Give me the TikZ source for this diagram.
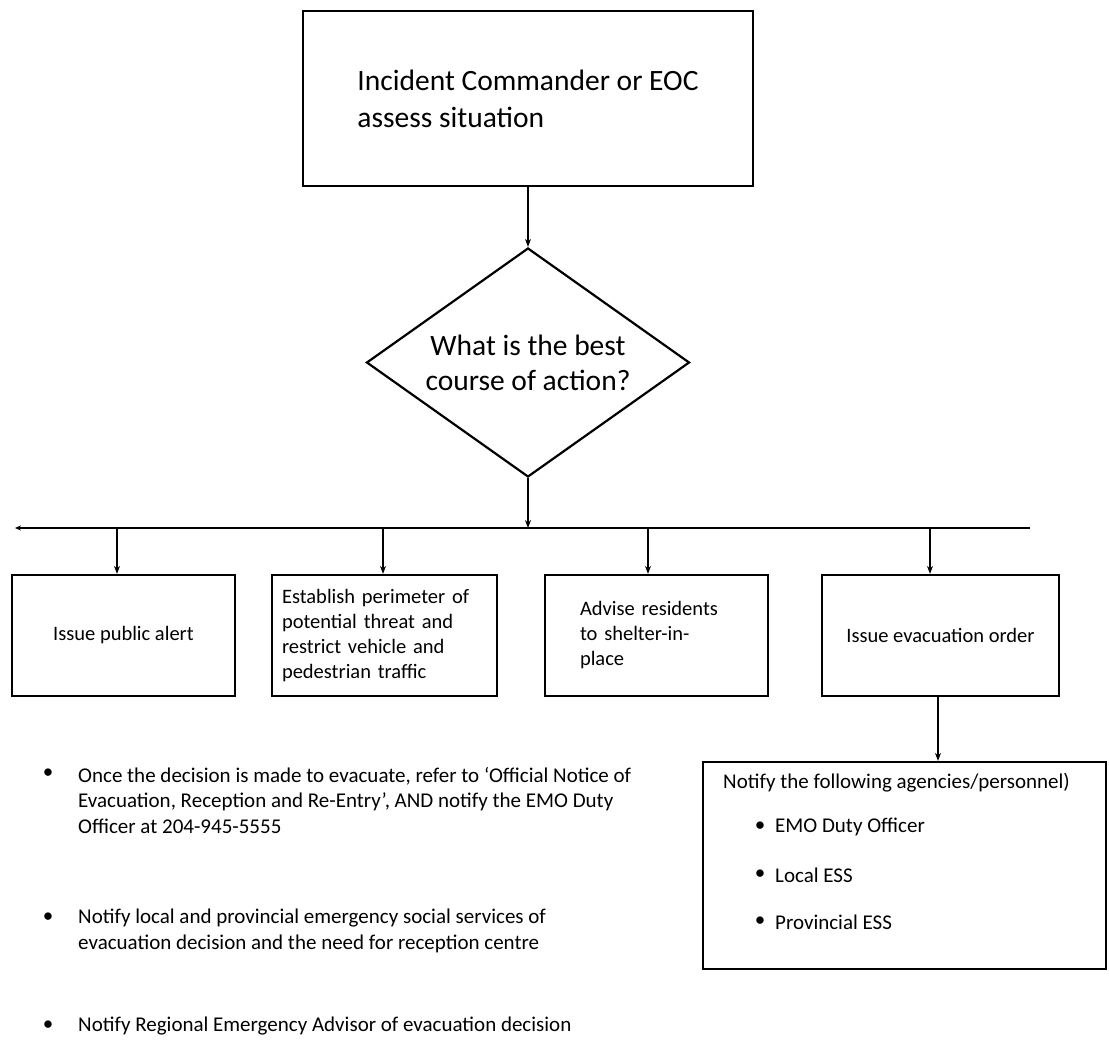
\documentclass[tikz,border=0pt]{standalone}
\usepackage{fontspec}
\setmainfont{Carlito}
\usetikzlibrary{shapes.geometric,arrows.meta}
\begin{document}
\begin{tikzpicture}[x=1pt,y=-1pt,
  box/.style={draw, line width=2.2pt, rectangle, inner sep=0pt, font=\fontsize{20.5}{25}\selectfont},
  arr/.style={line width=1.5pt, -{Stealth[length=8pt,width=6pt]}},
  ln/.style={line width=1.8pt},
  txt/.style={inner sep=0pt, anchor=west, font=\fontsize{21}{25.5}\selectfont, align=left},
  bul/.style={inner sep=0pt, font=\fontsize{21}{25}\selectfont},
]
\useasboundingbox (0,0) rectangle (1109,1042);

% top box
\node[box, minimum width=450pt, minimum height=175pt, align=left,
      font=\fontsize{29.5}{37}\selectfont] (top) at (528,98.5)
  {Incident Commander or EOC\\assess situation};

% decision diamond
\node[draw, diamond, shape aspect=1.41, line width=2.2pt, minimum width=323pt, minimum height=229pt,
      inner sep=0pt, align=center, font=\fontsize{29.5}{35}\selectfont] (dec) at (528,362.5)
  {What is the best\\course of action?};

\draw[arr] (top.south) -- (dec.north);

% bus
\coordinate (busM) at (528,528);
\coordinate (busL) at (15,528);
\coordinate (busR) at (1030,528);
\draw[arr] (dec.south) -- (busM);
\draw[ln, {Stealth[length=6pt,width=5pt]}-] (busL) -- (busR);

% option boxes
\node[box, minimum width=223pt, minimum height=121pt, align=center] (b1) at (123.5,635.5)
  {Issue public alert};
\node[box, minimum width=225pt, minimum height=121pt, text width=205pt, align=left] (b2) at (384.5,635.5)
  {Establish perimeter of\\potential threat and\\restrict vehicle and\\pedestrian traffic};
\node[box, minimum width=223pt, minimum height=121pt, text width=153pt, align=left] (b3) at (656.5,635.5)
  {Advise residents\\to shelter-in-\\place};
\node[box, minimum width=237pt, minimum height=121pt, align=center] (b4) at (940.5,635.5)
  {Issue evacuation order};

\coordinate (d1) at (117,528);
\coordinate (d2) at (383,528);
\coordinate (d3) at (648,528);
\coordinate (d4) at (930,528);
\draw[arr] (d1) -- (d1 |- b1.north);
\draw[arr] (d2) -- (d2 |- b2.north);
\draw[arr] (d3) -- (d3 |- b3.north);
\draw[arr] (d4) -- (d4 |- b4.north);

% notify box
\node[box, minimum width=403pt, minimum height=207pt] (b5) at (904.5,865.5) {};
\coordinate (e4) at (938,695);
\draw[arr] (e4 |- b4.south) -- (e4 |- b5.north);

\node[txt] (n5t) at (723,783) {Notify the following agencies/personnel)};
\node[bul] (n5b1) at (760,827) {•};
\node[txt] (n5a) at (775,827) {EMO Duty Officer};
\node[bul] (n5b2) at (760,875) {•};
\node[txt] (n5b) at (775,875) {Local ESS};
\node[bul] (n5b3) at (760,922) {•};
\node[txt] (n5c) at (775,922) {Provincial ESS};

% bullet notes
\node[bul] (l1) at (48,774) {•};
\node[txt] (t1) at (78,800)
  {Once the decision is made to evacuate, refer to `Official Notice of\\Evacuation, Reception and Re-Entry', AND notify the EMO Duty\\Officer at 204-945-5555};
\node[bul] (l2) at (48,918) {•};
\node[txt] (t2) at (78,931)
  {Notify local and provincial emergency social services of\\evacuation decision and the need for reception centre};
\node[bul] (l3) at (48,1026) {•};
\node[txt] (t3) at (78,1026)
  {Notify Regional Emergency Advisor of evacuation decision};
\end{tikzpicture}
\end{document}
